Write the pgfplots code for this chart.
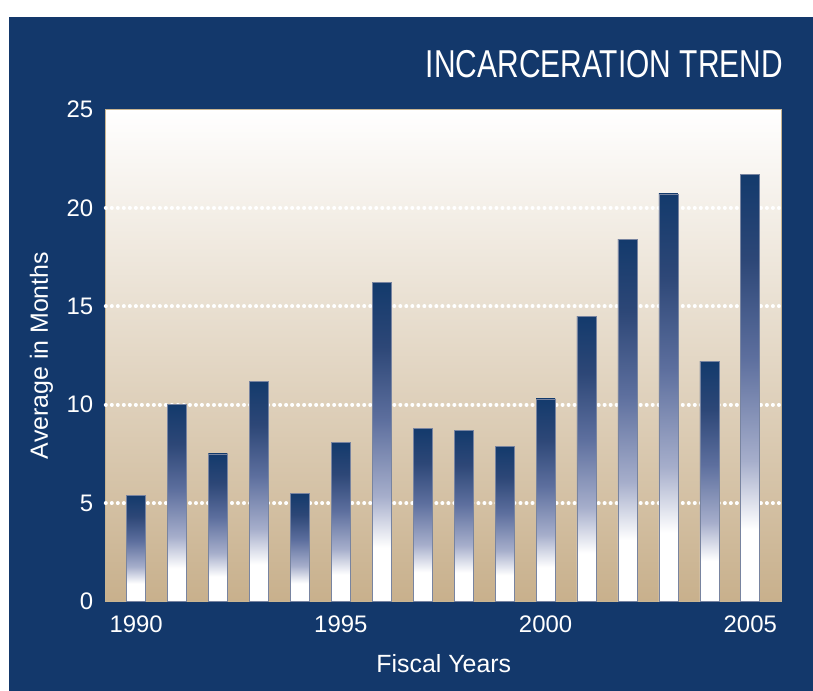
\documentclass[border=0pt]{standalone}
\usepackage{pgfplots}
\pgfplotsset{compat=1.18}
\usepackage{fontspec}
\setmainfont{Liberation Sans}
\newfontfamily\titlefont[FakeStretch=0.77]{Liberation Sans}
\definecolor{navy}{RGB}{19,56,107}
\definecolor{barnavy}{RGB}{19,58,108}
\definecolor{bar2}{RGB}{45,71,119}
\definecolor{bar3}{RGB}{93,111,158}
\definecolor{bar4}{RGB}{166,174,203}
\definecolor{tanbot}{RGB}{200,176,140}
\definecolor{tanframe}{RGB}{200,180,145}
\definecolor{baredge}{RGB}{120,132,160}
\pgfdeclareverticalshading{barshade}{100bp}{color(0bp)=(white); color(25bp)=(white); color(33.5bp)=(white); color(41.5bp)=(bar4); color(53.5bp)=(bar3); color(65bp)=(bar2); color(75bp)=(barnavy); color(100bp)=(barnavy)}
\begin{document}
\begin{tikzpicture}
\path[use as bounding box, fill=white] (0,0) rectangle (813bp,691bp);
\fill[navy] (9bp,0) rectangle (813bp,674bp);
\node[anchor=base east, text=white, font=\titlefont\fontsize{39}{44}\selectfont, inner sep=0pt] at (783bp,613bp) {INCARCERATION TREND};
\begin{axis}[
  at={(105.8bp,89.3bp)}, anchor=south west,
  scale only axis, width=676bp, height=492.4bp,
  xmin=1989.26, xmax=2005.77, ymin=0, ymax=25,
  ytick={0,5,...,25}, xtick={1990,1995,2000,2005},
  major tick length=0pt,
  /pgf/number format/1000 sep={},
  /pgf/number format/assume math mode=true,
  tick label style={text=white, font=\fontsize{24}{28}\selectfont},
  xticklabel style={yshift=-11bp},
  yticklabel style={xshift=-9bp},
  axis line style={draw=tanframe, line width=1bp},
  axis background/.style={top color=white, bottom color=tanbot},
  major grid style={draw=white, line width=4bp, line cap=round, dash pattern=on 0.01pt off 6bp},
  extra y ticks={5,10,15,20}, extra y tick labels={},
  extra y tick style={grid=major},
  xlabel={Fiscal Years}, ylabel={Average in Months},
  label style={text=white, font=\fontsize{25}{30}\selectfont},
  xlabel style={at={(axis description cs:0.5,0)}, anchor=base, yshift=-71bp},
  ylabel style={at={(axis description cs:0,0.5)}, anchor=base, yshift=58bp},
  onebar/.style={ybar, bar shift=0pt, bar width=19bp, shading=barshade, draw=baredge, line width=0.6bp},
]
\addplot[onebar] coordinates {(1990,5.4)};
\addplot[onebar] coordinates {(1991,10.0)};
\addplot[onebar] coordinates {(1992,7.5)};
\addplot[onebar] coordinates {(1993,11.2)};
\addplot[onebar] coordinates {(1994,5.5)};
\addplot[onebar] coordinates {(1995,8.1)};
\addplot[onebar] coordinates {(1996,16.2)};
\addplot[onebar] coordinates {(1997,8.8)};
\addplot[onebar] coordinates {(1998,8.7)};
\addplot[onebar] coordinates {(1999,7.9)};
\addplot[onebar] coordinates {(2000,10.3)};
\addplot[onebar] coordinates {(2001,14.5)};
\addplot[onebar] coordinates {(2002,18.4)};
\addplot[onebar] coordinates {(2003,20.7)};
\addplot[onebar] coordinates {(2004,12.2)};
\addplot[onebar] coordinates {(2005,21.7)};
\end{axis}
\end{tikzpicture}
\end{document}
